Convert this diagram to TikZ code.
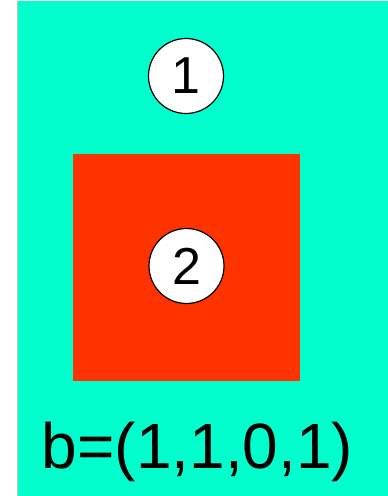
\documentclass[tikz,border=0pt]{standalone}
\usepackage{fontspec}
\setmainfont{Liberation Sans}
\usepackage{tikz}
\usetikzlibrary{positioning}
\definecolor{aqua}{RGB}{0,255,204}
\definecolor{redsq}{RGB}{255,51,0}

\begin{document}
\begin{tikzpicture}[x=1pt, y=-1pt, line width=1.2pt,
    cell/.style={circle, draw, fill=white, minimum size=75pt, inner sep=0pt,
        font=\fontsize{52}{52}\selectfont}]
    \useasboundingbox (0,0) rectangle (388,496);
    \fill[aqua] (17,1) rectangle (388,496);
    \draw[gray!50, line width=0.5pt] (17,1) -- (17,496);

    \node[fill=redsq, minimum size=227pt, inner sep=0pt] (square) at (186.5,267.5) {};
    \node[cell] (c1) at (186,76) {1};
    \node[cell] (c2) at (186.5,266) {2};

    \node[anchor=base, inner sep=0pt, font=\fontsize{64}{64}\selectfont] (vec) at (197.5,468) {b=(1,1,0,1)};
\end{tikzpicture}
\end{document}
